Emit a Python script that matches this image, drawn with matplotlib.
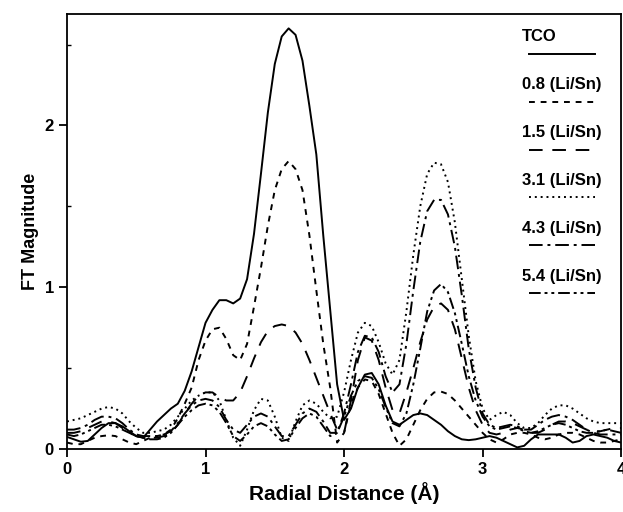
import numpy as np
import matplotlib.pyplot as plt

plt.rcParams['font.family'] = ['Liberation Sans', 'DejaVu Sans']
plt.rcParams['font.weight'] = 'bold'

# radial distance grid (A)
r = np.round(np.arange(0, 4.001, 0.05), 2)

tco = [0.075, 0.06, 0.045, 0.05, 0.09, 0.13, 0.16, 0.16, 0.14, 0.11,
       0.08, 0.07, 0.12, 0.17, 0.21, 0.25, 0.28, 0.36, 0.48, 0.63,
       0.78, 0.86, 0.92, 0.92, 0.90, 0.93, 1.05, 1.33, 1.70, 2.08,
       2.38, 2.55, 2.60, 2.56, 2.40, 2.12, 1.82, 1.32, 0.86, 0.40,
       0.18, 0.25, 0.38, 0.46, 0.47, 0.40, 0.27, 0.17, 0.15, 0.18,
       0.21, 0.22, 0.21, 0.18, 0.15, 0.11, 0.08, 0.06, 0.055, 0.06,
       0.07, 0.08, 0.07, 0.05, 0.03, 0.01, 0.02, 0.06, 0.09, 0.09,
       0.09, 0.09, 0.07, 0.04, 0.05, 0.08, 0.09, 0.08, 0.07, 0.05,
       0.04]
li08 = [0.04, 0.03, 0.03, 0.05, 0.07, 0.08, 0.085, 0.08, 0.06, 0.04,
        0.03, 0.05, 0.07, 0.08, 0.09, 0.12, 0.19, 0.28, 0.38, 0.55,
        0.67, 0.74, 0.75, 0.68, 0.58, 0.55, 0.65, 0.88, 1.12, 1.38,
        1.60, 1.73, 1.78, 1.73, 1.60, 1.32, 0.98, 0.65, 0.38, 0.04,
        0.10, 0.28, 0.38, 0.43, 0.42, 0.34, 0.22, 0.10, 0.02, 0.06,
        0.15, 0.24, 0.31, 0.35, 0.355, 0.34, 0.30, 0.25, 0.20, 0.15,
        0.10, 0.06, 0.04, 0.06, 0.09, 0.10, 0.10, 0.09, 0.07, 0.06,
        0.07, 0.09, 0.10, 0.10, 0.09, 0.07, 0.05, 0.04, 0.04, 0.05,
        0.06]
li15 = [0.10, 0.10, 0.11, 0.13, 0.15, 0.17, 0.17, 0.16, 0.13, 0.10,
        0.08, 0.07, 0.07, 0.07, 0.08, 0.10, 0.15, 0.22, 0.28, 0.33,
        0.35, 0.35, 0.32, 0.30, 0.30, 0.35, 0.45, 0.56, 0.66, 0.73,
        0.76, 0.77, 0.76, 0.72, 0.65, 0.55, 0.44, 0.33, 0.22, 0.12,
        0.10, 0.30, 0.55, 0.69, 0.67, 0.55, 0.38, 0.24, 0.22, 0.35,
        0.50, 0.66, 0.80, 0.88, 0.90, 0.86, 0.74, 0.56, 0.38, 0.24,
        0.15, 0.10, 0.09, 0.10, 0.12, 0.13, 0.12, 0.10, 0.10, 0.12,
        0.15, 0.17, 0.17, 0.16, 0.14, 0.12, 0.11, 0.11, 0.12, 0.13,
        0.13]
li31 = [0.17, 0.18, 0.19, 0.21, 0.23, 0.25, 0.26, 0.25, 0.22, 0.17,
        0.13, 0.10, 0.10, 0.11, 0.12, 0.15, 0.20, 0.25, 0.30, 0.33,
        0.35, 0.35, 0.30, 0.18, 0.07, 0.02, 0.12, 0.24, 0.31, 0.30,
        0.20, 0.07, 0.05, 0.17, 0.27, 0.30, 0.28, 0.23, 0.19, 0.20,
        0.35, 0.55, 0.72, 0.78, 0.76, 0.66, 0.53, 0.46, 0.55, 0.85,
        1.20, 1.50, 1.70, 1.77, 1.76, 1.65, 1.40, 1.05, 0.70, 0.42,
        0.25, 0.18, 0.21, 0.23, 0.21, 0.16, 0.13, 0.13, 0.16, 0.21,
        0.25, 0.27, 0.27, 0.25, 0.22, 0.19, 0.17, 0.16, 0.16, 0.16,
        0.16]
li43 = [0.12, 0.12, 0.13, 0.15, 0.18, 0.20, 0.20, 0.19, 0.16, 0.12,
        0.09, 0.08, 0.08, 0.08, 0.09, 0.11, 0.16, 0.22, 0.27, 0.30,
        0.31, 0.30, 0.26, 0.18, 0.12, 0.10, 0.15, 0.20, 0.22, 0.20,
        0.14, 0.08, 0.08, 0.15, 0.22, 0.25, 0.23, 0.17, 0.10, 0.10,
        0.22, 0.40, 0.60, 0.70, 0.69, 0.60, 0.45, 0.35, 0.40, 0.65,
        0.98, 1.28, 1.47, 1.54, 1.54, 1.45, 1.25, 0.95, 0.62, 0.38,
        0.22, 0.15, 0.13, 0.14, 0.15, 0.14, 0.12, 0.12, 0.15, 0.18,
        0.20, 0.21, 0.20, 0.18, 0.15, 0.12, 0.10, 0.09, 0.09, 0.09,
        0.09]
li54 = [0.09, 0.08, 0.09, 0.11, 0.13, 0.15, 0.15, 0.14, 0.12, 0.10,
        0.08, 0.07, 0.06, 0.06, 0.07, 0.10, 0.15, 0.20, 0.24, 0.27,
        0.28, 0.27, 0.23, 0.16, 0.08, 0.05, 0.09, 0.14, 0.16, 0.14,
        0.09, 0.05, 0.06, 0.13, 0.19, 0.22, 0.20, 0.14, 0.08, 0.10,
        0.20, 0.33, 0.42, 0.45, 0.44, 0.37, 0.26, 0.16, 0.14, 0.22,
        0.40, 0.62, 0.85, 0.98, 1.02, 0.97, 0.84, 0.65, 0.45, 0.30,
        0.20, 0.14, 0.12, 0.13, 0.14, 0.13, 0.11, 0.10, 0.11, 0.13,
        0.15, 0.16, 0.15, 0.13, 0.11, 0.10, 0.10, 0.11, 0.12, 0.11,
        0.10]

labels = ['TCO', '0.8 (Li/Sn)', '1.5 (Li/Sn)', '3.1 (Li/Sn)', '4.3 (Li/Sn)', '5.4 (Li/Sn)']
series = [tco, li08, li15, li31, li43, li54]
dashes = [None, (3, 3), (7, 5), (1, 2), (7, 2.5, 1.5, 2.5), (6, 2, 1.5, 2, 1.5, 2)]

fig = plt.figure(figsize=(6.23, 5.12), dpi=100)
ax = fig.add_axes([0.1075, 0.123, 0.8895, 0.85])

for y, d in zip(series, dashes):
    line, = ax.plot(r, y, color='black', lw=1.4)
    if d is not None:
        line.set_dashes(d)

ax.set_xlim(0, 4)
ax.set_ylim(0, 2.69)
ax.set_xticks([0, 1, 2, 3, 4])
ax.set_yticks([0, 1, 2])
ax.set_yticks([0.5, 1.5, 2.5], minor=True)
ax.tick_params(axis='both', which='major', direction='out', length=6, width=1.3,
               labelsize=12)
ax.tick_params(axis='x', which='major', pad=3)
ax.tick_params(axis='y', which='minor', direction='in', length=3, width=1)
for lab in ax.get_xticklabels() + ax.get_yticklabels():
    lab.set_fontweight('bold')
for s in ax.spines.values():
    s.set_linewidth(1.3)

ax.set_xlabel('Radial Distance (\u00c5)', fontsize=15, fontweight='bold', labelpad=4)
ax.set_ylabel('FT Magnitude', fontsize=13, fontweight='bold', labelpad=4)

# legend: label with line sample below it
for i, (lab, d) in enumerate(zip(labels, dashes)):
    ty = 0.947 - i * 0.110
    ax.text(0.821, ty, lab, transform=ax.transAxes, fontsize=12,
            fontweight='bold', va='center', ha='left')
    ln, = ax.plot([0.834, 0.953], [ty - 0.039, ty - 0.039], transform=ax.transAxes,
                  color='black', lw=1.4)
    if d is not None:
        ln.set_dashes(d)

fig.savefig('out.png', dpi=100)
